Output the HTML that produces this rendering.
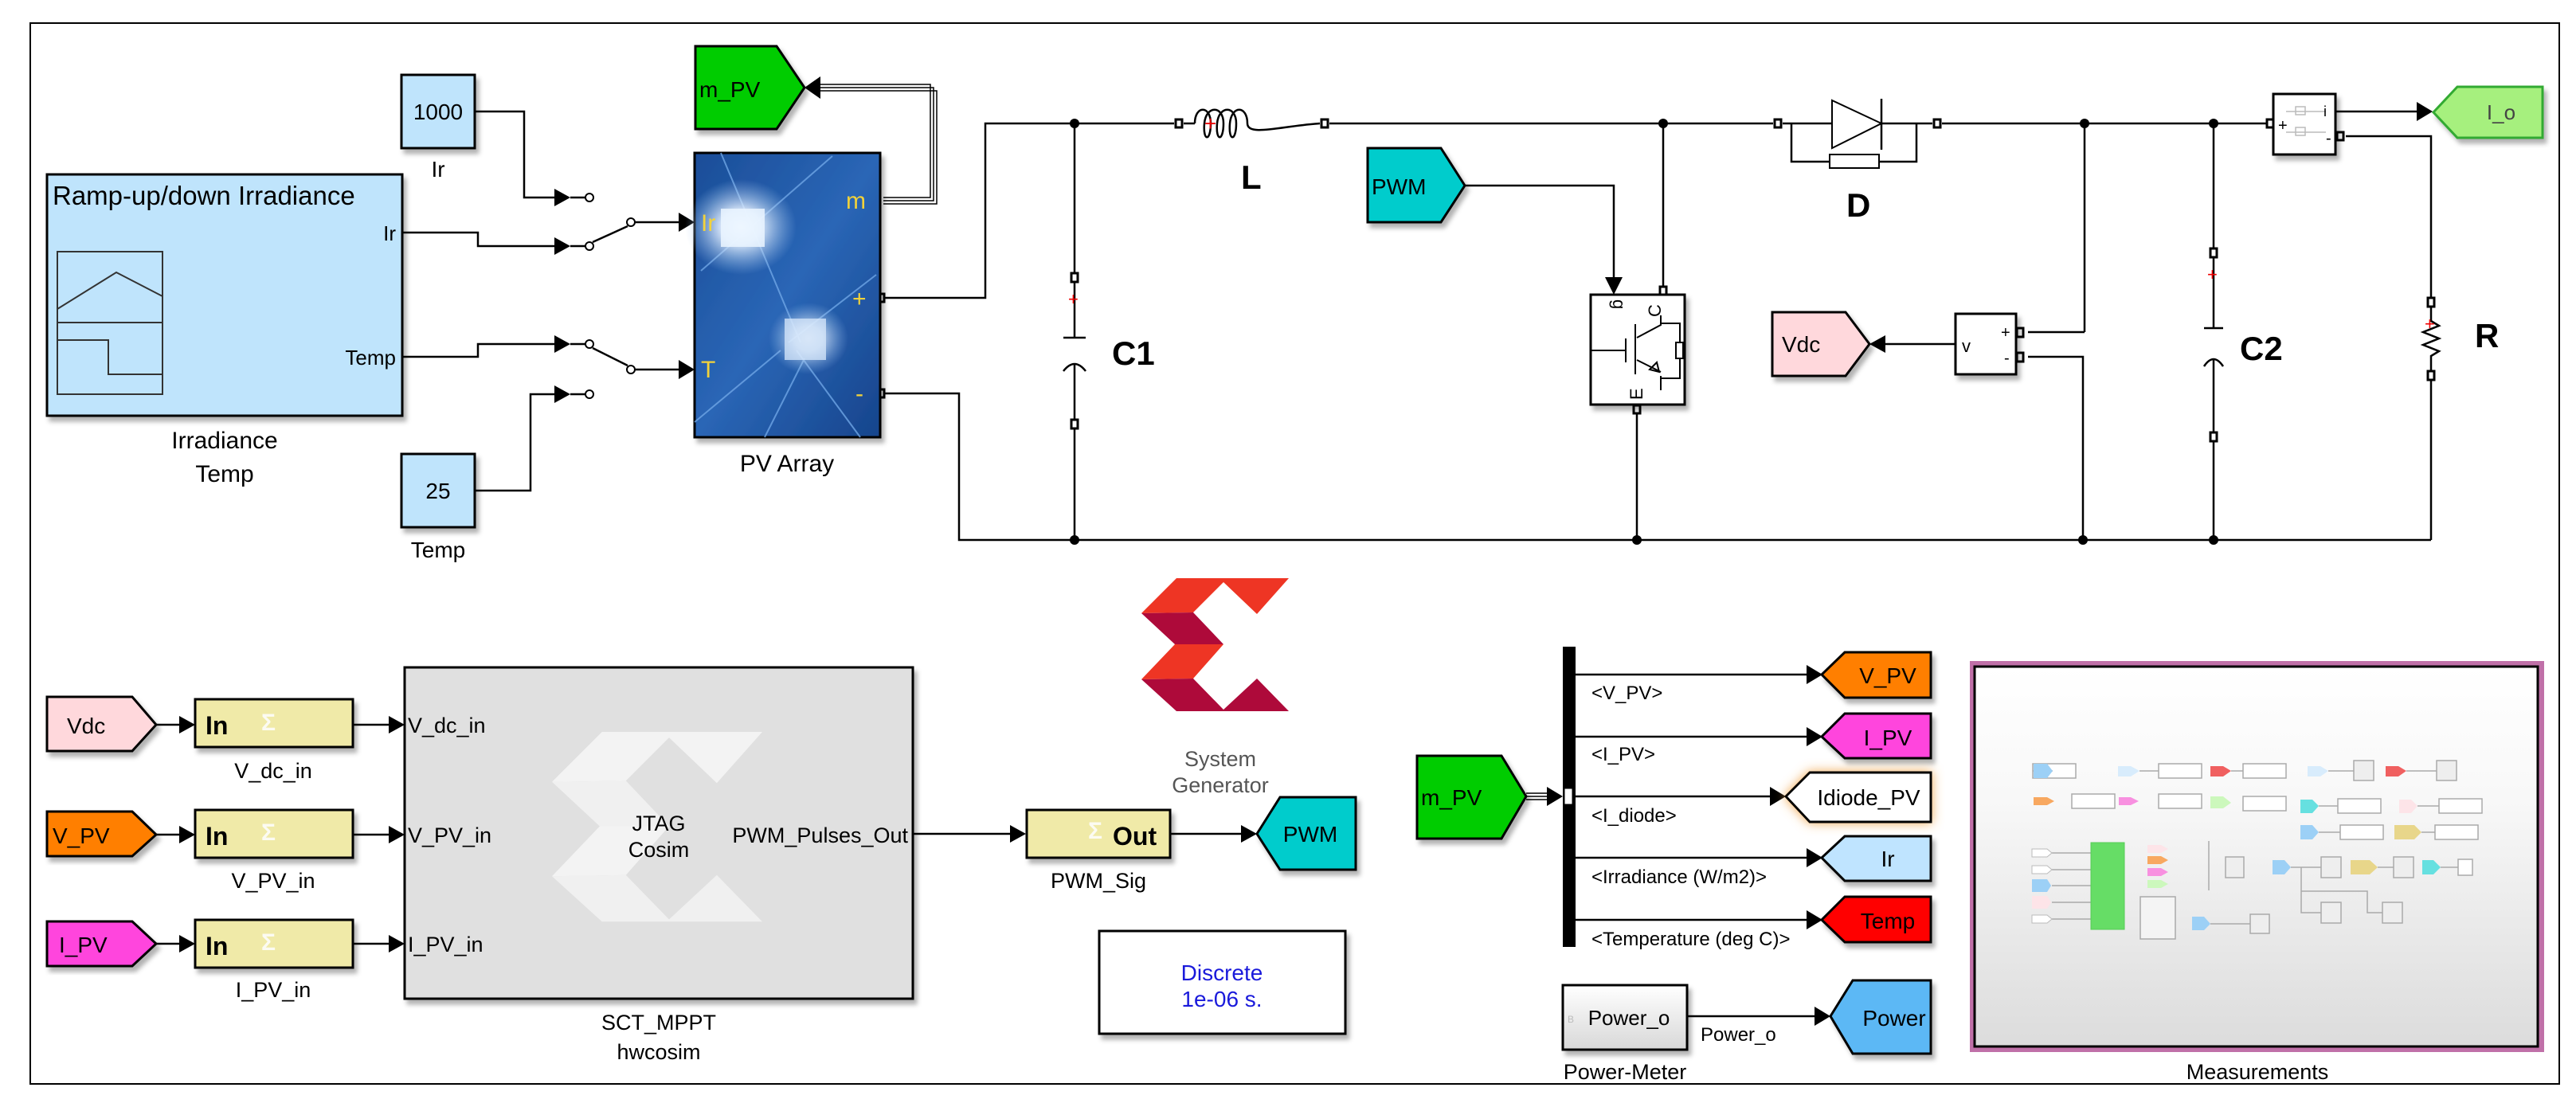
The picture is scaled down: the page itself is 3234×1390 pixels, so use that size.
<!DOCTYPE html>
<html><head><meta charset="utf-8"><style>
html,body{margin:0;padding:0;background:#fff}
svg{display:block}
text{font-family:"Liberation Sans",Arial,sans-serif}
</style></head><body>
<svg width="3234" height="1390" viewBox="0 0 3234 1390" xmlns="http://www.w3.org/2000/svg">
<defs>
<filter id="sh" x="-10%" y="-10%" width="130%" height="130%"><feDropShadow dx="4" dy="6" stdDeviation="3" flood-color="#000" flood-opacity="0.3"/></filter>
<filter id="glow" x="-30%" y="-30%" width="160%" height="160%"><feDropShadow dx="0" dy="0" stdDeviation="7" flood-color="#f0a040" flood-opacity="0.9"/></filter>
<linearGradient id="pv" x1="0" y1="0" x2="1" y2="1"><stop offset="0" stop-color="#1b4d98"/><stop offset="0.5" stop-color="#2a66b6"/><stop offset="1" stop-color="#16448c"/></linearGradient>
<radialGradient id="spot"><stop offset="0" stop-color="#fff" stop-opacity="1"/><stop offset="0.35" stop-color="#e8f2ff" stop-opacity="0.9"/><stop offset="1" stop-color="#9cc4f0" stop-opacity="0"/></radialGradient>
<linearGradient id="meas" x1="0" y1="0" x2="0" y2="1"><stop offset="0" stop-color="#ffffff"/><stop offset="0.35" stop-color="#f8f8f8"/><stop offset="1" stop-color="#dcdcdc"/></linearGradient>
<linearGradient id="pm" x1="0" y1="0" x2="0" y2="1"><stop offset="0" stop-color="#fff"/><stop offset="1" stop-color="#d8d8d8"/></linearGradient>
</defs>

<rect x="38" y="29" width="3175" height="1332" fill="none" stroke="#000" stroke-width="2"/>

<g stroke="#000" stroke-width="2.5" fill="none">
<polyline points="596,140 658,140 658,248 700,248"/>
<polyline points="505,292 600,292 600,309 700,309"/>
<polyline points="505,448 600,448 600,432 700,432"/>
<polyline points="596,616 666,616 666,495 700,495"/>
<line x1="716" y1="248" x2="735" y2="248"/><line x1="716" y1="309" x2="735" y2="309"/>
<line x1="716" y1="432" x2="735" y2="432"/><line x1="716" y1="495" x2="735" y2="495"/>
<line x1="744" y1="304" x2="788" y2="284"/>
<line x1="744" y1="437" x2="788" y2="459"/>
<line x1="797" y1="279" x2="860" y2="279"/>
<line x1="797" y1="464" x2="860" y2="464"/>
<polyline points="1109,374 1237,374 1237,155 1474,155"/>
<polyline points="1109,494 1204,494 1204,678 3052,678"/>
<line x1="1349" y1="155" x2="1349" y2="343"/>
<line x1="1349" y1="354" x2="1349" y2="424"/>
<line x1="1335" y1="424" x2="1363" y2="424"/>
<path d="M1335,466 Q1349,448 1363,466"/>
<line x1="1349" y1="457" x2="1349" y2="527"/>
<line x1="1349" y1="538" x2="1349" y2="678"/>
<line x1="1486" y1="155" x2="1500" y2="155"/>
<path d="M1500,155 C1500,132 1520,132 1520,155 C1520,178 1510,178 1512,155 C1514,132 1536,132 1536,155 C1536,178 1526,178 1528,155 C1530,132 1552,132 1552,155 C1552,178 1542,178 1544,155 C1546,132 1566,132 1566,155 C1566,172 1610,158 1657,155"/>
<line x1="1669" y1="155" x2="2226" y2="155"/>
<line x1="2088" y1="155" x2="2088" y2="360"/>
<line x1="2238" y1="155" x2="2300" y2="155"/>
<line x1="2362" y1="155" x2="2426" y2="155"/>
<polyline points="2249,155 2249,203 2297,203"/><polyline points="2359,203 2406,203 2406,155"/>
<line x1="2438" y1="155" x2="2848" y2="155"/>
<line x1="2617" y1="155" x2="2617" y2="417" /><line x1="2617" y1="417" x2="2546" y2="417"/>
<polyline points="2546,448 2615,448 2615,678"/>
<line x1="2779" y1="155" x2="2779" y2="312"/>
<line x1="2779" y1="323" x2="2779" y2="412"/>
<line x1="2767" y1="412" x2="2791" y2="412"/>
<path d="M2767,460 Q2779,442 2791,460"/>
<line x1="2779" y1="452" x2="2779" y2="543"/>
<line x1="2779" y1="554" x2="2779" y2="678"/>
<line x1="2932" y1="140" x2="3040" y2="140"/>
<polyline points="2945,171 3052,171 3052,374"/>
<polyline points="3052,385 3052,403 3062,409 3042,417 3062,425 3042,433 3062,441 3052,447 3052,466"/>
<line x1="3052" y1="477" x2="3052" y2="678"/>
<polyline points="1839,233 2026,233 2026,356"/>
<line x1="2055" y1="514" x2="2055" y2="678"/>
<line x1="2455" y1="432" x2="2362" y2="432"/>
<polyline points="1109,248 1168,248 1168,106 1024,106" stroke-width="1.5"/>
<polyline points="1109,252 1172,252 1172,110 1024,110" stroke-width="1.5"/>
<polyline points="1109,256 1176,256 1176,114 1024,114" stroke-width="1.5"/>
<line x1="196" y1="910" x2="228" y2="910"/><line x1="443" y1="910" x2="492" y2="910"/>
<line x1="196" y1="1048" x2="228" y2="1048"/><line x1="443" y1="1048" x2="492" y2="1048"/>
<line x1="196" y1="1185" x2="228" y2="1185"/><line x1="443" y1="1185" x2="492" y2="1185"/>
<line x1="1146" y1="1047" x2="1272" y2="1047"/>
<line x1="1469" y1="1047" x2="1562" y2="1047"/>
<line x1="1916" y1="996" x2="1948" y2="996" stroke-width="1.5"/><line x1="1916" y1="1000" x2="1948" y2="1000" stroke-width="1.5"/><line x1="1916" y1="1004" x2="1948" y2="1004" stroke-width="1.5"/>
<line x1="1978" y1="847" x2="2272" y2="847"/>
<line x1="1978" y1="925" x2="2272" y2="925"/>
<line x1="1978" y1="1000" x2="2226" y2="1000"/>
<line x1="1978" y1="1077" x2="2272" y2="1077"/>
<line x1="1978" y1="1155" x2="2272" y2="1155"/>
<line x1="2118" y1="1276" x2="2282" y2="1276"/>
</g>

<g fill="#000">
<polygon points="696,237 716,248 696,259"/><polygon points="696,298 716,309 696,320"/>
<polygon points="696,421 716,432 696,443"/><polygon points="696,484 716,495 696,506"/>
<polygon points="852,267 872,279 852,291"/><polygon points="852,452 872,464 852,476"/>
<polygon points="1030,96 1010,110 1030,124"/>
<polygon points="2015,348 2026,370 2037,348"/>
<polygon points="2367,421 2347,432 2367,443"/>
<polygon points="3034,128 3054,140 3034,152"/>
<polygon points="225,899 245,910 225,921"/><polygon points="488,899 508,910 488,921"/>
<polygon points="225,1037 245,1048 225,1059"/><polygon points="488,1037 508,1048 488,1059"/>
<polygon points="225,1174 245,1185 225,1196"/><polygon points="488,1174 508,1185 488,1196"/>
<polygon points="1268,1036 1288,1047 1268,1058"/>
<polygon points="1558,1036 1578,1047 1558,1058"/>
<polygon points="1942,988 1962,1000 1942,1012"/>
<polygon points="2268,835 2288,847 2268,859"/><polygon points="2268,913 2288,925 2268,937"/>
<polygon points="2222,988 2242,1000 2222,1012"/><polygon points="2268,1065 2288,1077 2268,1089"/>
<polygon points="2268,1143 2288,1155 2268,1167"/><polygon points="2278,1264 2298,1276 2278,1288"/>
<circle cx="1349" cy="155" r="6"/><circle cx="2088" cy="155" r="6"/><circle cx="2617" cy="155" r="6"/><circle cx="2779" cy="155" r="6"/>
<circle cx="1349" cy="678" r="6"/><circle cx="2055" cy="678" r="6"/><circle cx="2615" cy="678" r="6"/><circle cx="2779" cy="678" r="6"/>
</g>
<g fill="#fff" stroke="#000" stroke-width="2">
<circle cx="740" cy="248" r="5"/><circle cx="740" cy="309" r="5"/><circle cx="792" cy="279" r="5"/>
<circle cx="740" cy="432" r="5"/><circle cx="740" cy="495" r="5"/><circle cx="792" cy="464" r="5"/>
</g>
<g fill="#fff" stroke="#000" stroke-width="3">
<rect x="1103" y="369" width="7" height="10"/><rect x="1103" y="489" width="7" height="10"/>
<rect x="1345" y="343" width="8" height="11"/><rect x="1345" y="527" width="8" height="11"/>
<rect x="1476" y="150" width="8" height="10"/><rect x="1659" y="150" width="8" height="10"/>
<rect x="2228" y="150" width="8" height="10"/><rect x="2428" y="150" width="8" height="10"/>
<rect x="2775" y="312" width="8" height="11"/><rect x="2775" y="543" width="8" height="11"/>
<rect x="3048" y="374" width="8" height="11"/><rect x="3048" y="466" width="8" height="11"/>
<rect x="2084" y="360" width="8" height="10"/><rect x="2051" y="509" width="8" height="10"/>
<rect x="2532" y="412" width="8" height="11"/><rect x="2532" y="443" width="8" height="11"/>
<rect x="2846" y="150" width="8" height="10"/><rect x="2934" y="166" width="8" height="10"/>
</g>
<g fill="#e00" font-size="22"><text x="1512" y="164" font-size="26">+</text><text x="1341" y="383">+</text><text x="2771" y="352">+</text><text x="3044" y="414">+</text></g>

<rect x="59" y="219" width="446" height="303" fill="#bfe4fc" stroke="#000" stroke-width="3" filter="url(#sh)"/>
<text x="66" y="257" font-size="33">Ramp-up/down Irradiance</text>
<text x="497" y="302" font-size="26" text-anchor="end">Ir</text>
<text x="497" y="458" font-size="26" text-anchor="end">Temp</text>
<rect x="72" y="316" width="132" height="179" fill="none" stroke="#333" stroke-width="2"/>
<line x1="72" y1="405" x2="204" y2="405" stroke="#333" stroke-width="2"/>
<polyline points="72,388 146,342 204,372" fill="none" stroke="#333" stroke-width="2"/>
<polyline points="72,427 136,427 136,470 204,470" fill="none" stroke="#333" stroke-width="2"/>
<text x="282" y="563" font-size="30" text-anchor="middle">Irradiance</text>
<text x="282" y="605" font-size="30" text-anchor="middle">Temp</text>

<rect x="504" y="94" width="92" height="92" fill="#bfe4fc" stroke="#000" stroke-width="3" filter="url(#sh)"/>
<text x="550" y="150" font-size="28" text-anchor="middle">1000</text>
<text x="550" y="222" font-size="28" text-anchor="middle">Ir</text>
<rect x="504" y="570" width="92" height="92" fill="#bfe4fc" stroke="#000" stroke-width="3" filter="url(#sh)"/>
<text x="550" y="626" font-size="28" text-anchor="middle">25</text>
<text x="550" y="700" font-size="28" text-anchor="middle">Temp</text>

<g filter="url(#sh)"><rect x="872" y="192" width="233" height="357" fill="url(#pv)" stroke="#000" stroke-width="3"/></g>
<g stroke="#6fa6e6" stroke-width="2" fill="none" opacity="0.8">
<line x1="880" y1="340" x2="1045" y2="196"/><line x1="905" y1="192" x2="1005" y2="430"/>
<line x1="990" y1="430" x2="1100" y2="345"/><line x1="1000" y1="440" x2="1080" y2="549"/>
<line x1="872" y1="530" x2="980" y2="440"/><line x1="960" y1="549" x2="1010" y2="450"/>
</g>
<ellipse cx="930" cy="285" rx="70" ry="60" fill="url(#spot)"/>
<rect x="905" y="262" width="55" height="48" fill="#eaf4ff" opacity="0.85"/>
<ellipse cx="1015" cy="425" rx="50" ry="45" fill="url(#spot)" opacity="0.8"/>
<rect x="985" y="400" width="52" height="52" fill="#d8e8fb" opacity="0.75"/>
<g fill="#f2d23a" font-size="30"><text x="880" y="290">Ir</text><text x="880" y="474">T</text><text x="1062" y="262">m</text><text x="1070" y="385">+</text><text x="1074" y="504">-</text></g>
<text x="988" y="592" font-size="30" text-anchor="middle">PV Array</text>

<polygon points="873,58 975,58 1010,110 975,162 873,162" fill="#00cc00" stroke="#000" stroke-width="3" filter="url(#sh)"/>
<text x="878" y="122" font-size="28">m_PV</text>

<g font-weight="bold" font-size="42"><text x="1558" y="237">L</text><text x="1396" y="458">C1</text><text x="2318" y="272">D</text><text x="2812" y="452">C2</text><text x="3107" y="436">R</text></g>

<polygon points="2300,126 2362,155 2300,186" fill="#fff" stroke="#000" stroke-width="2"/>
<line x1="2362" y1="124" x2="2362" y2="188" stroke="#000" stroke-width="2.5"/>
<rect x="2297" y="194" width="62" height="17" fill="#fff" stroke="#000" stroke-width="2"/>

<polygon points="1717,186 1809,186 1839,233 1809,279 1717,279" fill="#00cccc" stroke="#000" stroke-width="3" filter="url(#sh)"/>
<text x="1722" y="244" font-size="28">PWM</text>

<rect x="1997" y="370" width="118" height="138" fill="#fff" stroke="#000" stroke-width="3" filter="url(#sh)"/>
<g stroke="#000" stroke-width="2" fill="none">
<line x1="1997" y1="440" x2="2041" y2="440"/><line x1="2041" y1="425" x2="2041" y2="455"/>
<line x1="2053" y1="407" x2="2053" y2="470"/>
<polyline points="2055,424 2085,408 2085,396"/><polyline points="2085,406 2109,406 2109,430"/>
<rect x="2104" y="430" width="9" height="20"/><polyline points="2109,450 2109,475 2085,475"/>
<polyline points="2055,452 2085,467"/><line x1="2085" y1="472" x2="2085" y2="490"/>
<polygon points="2071,464 2080,455 2083,467"/>
</g>
<text x="2016" y="385" font-size="22" transform="rotate(90 2025 385)">g</text>
<text x="2074" y="387" font-size="22" transform="rotate(-90 2085 387)">C</text>
<text x="2046" y="500" font-size="22" transform="rotate(-90 2055 493)">E</text>

<polygon points="2225,392 2317,392 2347,432 2317,472 2225,472" fill="#ffd8dc" stroke="#000" stroke-width="3" filter="url(#sh)"/>
<text x="2237" y="442" font-size="28">Vdc</text>
<rect x="2455" y="394" width="76" height="76" fill="#fff" stroke="#000" stroke-width="3" filter="url(#sh)"/>
<text x="2463" y="442" font-size="22">v</text><text x="2512" y="424" font-size="20">+</text><text x="2516" y="456" font-size="20">-</text>

<rect x="2854" y="118" width="78" height="76" fill="#fff" stroke="#000" stroke-width="3" filter="url(#sh)"/>
<g stroke="#bbb" stroke-width="1.5" fill="none"><line x1="2870" y1="140" x2="2920" y2="140"/><rect x="2882" y="134" width="12" height="10"/><line x1="2870" y1="166" x2="2920" y2="166"/><rect x="2882" y="160" width="12" height="10"/></g>
<text x="2860" y="164" font-size="20">+</text><text x="2917" y="146" font-size="18">i</text><text x="2920" y="180" font-size="20">-</text>

<polygon points="3085,109 3192,109 3192,173 3085,173 3055,141" fill="#a6f07e" stroke="#3a3" stroke-width="3" filter="url(#sh)"/>
<text x="3140" y="150" font-size="26" fill="#444" text-anchor="middle">I_o</text>

<polygon points="59,875 166,875 196,910 166,943 59,943" fill="#ffd8dc" stroke="#000" stroke-width="3" filter="url(#sh)"/>
<text x="84" y="921" font-size="28">Vdc</text>
<polygon points="59,1019 166,1019 196,1048 166,1075 59,1075" fill="#ff7f00" stroke="#000" stroke-width="3" filter="url(#sh)"/>
<text x="66" y="1059" font-size="28">V_PV</text>
<polygon points="59,1157 166,1157 196,1185 166,1213 59,1213" fill="#ff44dd" stroke="#000" stroke-width="3" filter="url(#sh)"/>
<text x="74" y="1196" font-size="28">I_PV</text>

<g fill="#f0eaa8" stroke="#000" stroke-width="3" filter="url(#sh)">
<rect x="245" y="878" width="198" height="60"/><rect x="245" y="1017" width="198" height="60"/><rect x="245" y="1155" width="198" height="60"/>
<rect x="1289" y="1017" width="180" height="60"/>
</g>
<g font-weight="bold" font-size="32"><text x="258" y="922">In</text><text x="258" y="1061">In</text><text x="258" y="1199">In</text><text x="1397" y="1061">Out</text></g>
<g fill="#fff" font-weight="bold" font-size="30" opacity="0.85"><text x="328" y="917">Σ</text><text x="328" y="1055">Σ</text><text x="328" y="1193">Σ</text><text x="1366" y="1053">Σ</text></g>
<g font-size="27" text-anchor="middle"><text x="343" y="977">V_dc_in</text><text x="343" y="1115">V_PV_in</text><text x="343" y="1252">I_PV_in</text><text x="1379" y="1115">PWM_Sig</text></g>

<rect x="508" y="838" width="638" height="416" fill="#e0e0e0" stroke="#000" stroke-width="3" filter="url(#sh)"/>
<g fill="#f3f3f3" transform="translate(693,919) scale(1.427) translate(-1433,-726)">
<polygon points="1433,770 1477,726 1618,726 1578,771 1536,731 1498,769"/>
<polygon points="1433,770 1498,769 1536,809 1475,809" fill="#f0f0f0"/>
<polygon points="1475,809 1536,809 1498,852 1433,853"/>
<polygon points="1433,853 1498,852 1536,891 1578,852 1618,893 1477,893" fill="#f0f0f0"/>
</g>
<g font-size="27"><text x="512" y="920">V_dc_in</text><text x="512" y="1058">V_PV_in</text><text x="512" y="1195">I_PV_in</text>
<text x="1140" y="1058" text-anchor="end">PWM_Pulses_Out</text>
<text x="827" y="1043" text-anchor="middle">JTAG</text><text x="827" y="1076" text-anchor="middle">Cosim</text>
<text x="827" y="1293" text-anchor="middle">SCT_MPPT</text><text x="827" y="1330" text-anchor="middle">hwcosim</text></g>

<polygon points="1433,770 1477,726 1618,726 1578,771 1536,731 1498,769" fill="#ee3524"/>
<polygon points="1433,770 1498,769 1536,809 1475,809" fill="#ae0a3a"/>
<polygon points="1475,809 1536,809 1498,852 1433,853" fill="#ee3524"/>
<polygon points="1433,853 1498,852 1536,891 1578,852 1618,893 1477,893" fill="#ae0a3a"/>
<text x="1532" y="962" font-size="27" fill="#555" text-anchor="middle">System</text>
<text x="1532" y="995" font-size="27" fill="#555" text-anchor="middle">Generator</text>

<rect x="1380" y="1169" width="309" height="129" fill="#fff" stroke="#000" stroke-width="3" filter="url(#sh)"/>
<text x="1534" y="1231" font-size="28" fill="#1a1adb" text-anchor="middle">Discrete</text>
<text x="1534" y="1264" font-size="28" fill="#1a1adb" text-anchor="middle">1e-06 s.</text>

<polygon points="1607,1001 1702,1001 1702,1092 1607,1092 1578,1047" fill="#00cccc" stroke="#000" stroke-width="3" filter="url(#sh)"/>
<text x="1645" y="1057" font-size="28" text-anchor="middle">PWM</text>

<polygon points="1779,949 1885,949 1916,1000 1885,1053 1779,1053" fill="#00cc00" stroke="#000" stroke-width="3" filter="url(#sh)"/>
<text x="1784" y="1011" font-size="28">m_PV</text>
<rect x="1962" y="812" width="16" height="377" fill="#000"/>
<rect x="1964" y="990" width="10" height="20" fill="#fff" stroke="#000" stroke-width="1"/>

<g font-size="24"><text x="1998" y="878">&lt;V_PV&gt;</text><text x="1998" y="955">&lt;I_PV&gt;</text><text x="1998" y="1032">&lt;I_diode&gt;</text><text x="1998" y="1109">&lt;Irradiance (W/m2)&gt;</text><text x="1998" y="1187">&lt;Temperature (deg C)&gt;</text><text x="2135" y="1307">Power_o</text></g>

<g stroke="#000" stroke-width="3" filter="url(#sh)">
<polygon points="2316,819 2424,819 2424,876 2316,876 2287,847" fill="#ff7f00"/>
<polygon points="2316,896 2424,896 2424,952 2316,952 2287,925" fill="#ff44dd"/>
<polygon points="2316,1050 2424,1050 2424,1106 2316,1106 2287,1077" fill="#bfe4ff"/>
<polygon points="2316,1126 2424,1126 2424,1183 2316,1183 2287,1155" fill="#ff0000"/>
<polygon points="2326,1231 2424,1231 2424,1323 2326,1323 2298,1276" fill="#5cb8f5"/>
</g>
<polygon points="2272,970 2424,970 2424,1032 2272,1032 2242,1000" fill="#fff" stroke="#000" stroke-width="3" filter="url(#glow)"/>
<g font-size="28" text-anchor="middle"><text x="2370" y="858">V_PV</text><text x="2370" y="936">I_PV</text><text x="2346" y="1011">Idiode_PV</text><text x="2370" y="1088">Ir</text><text x="2370" y="1166">Temp</text><text x="2378" y="1288">Power</text></g>

<rect x="1962" y="1237" width="156" height="81" fill="url(#pm)" stroke="#000" stroke-width="3" filter="url(#sh)"/>
<text x="2045" y="1287" font-size="26" text-anchor="middle">Power_o</text>
<text x="1968" y="1284" font-size="12" fill="#bbb">B</text>
<text x="2040" y="1355" font-size="27" text-anchor="middle">Power-Meter</text>

<rect x="2473" y="830" width="721" height="491" fill="#c070a8"/>
<rect x="2479" y="837" width="707" height="477" fill="url(#meas)" stroke="#000" stroke-width="3"/>
<text x="2834" y="1355" font-size="27" text-anchor="middle">Measurements</text>
<g stroke="#aaa" stroke-width="1.5">
<rect x="2552" y="959" width="54" height="18" fill="#fff"/><rect x="2710" y="959" width="54" height="18" fill="#fff"/><rect x="2816" y="959" width="54" height="18" fill="#fff"/>
<rect x="2955" y="955" width="25" height="25" fill="#eee"/><rect x="3059" y="955" width="25" height="25" fill="#eee"/>
<rect x="2601" y="997" width="54" height="18" fill="#fff"/><rect x="2710" y="997" width="54" height="18" fill="#fff"/><rect x="2816" y="1000" width="54" height="18" fill="#fff"/>
<rect x="2935" y="1003" width="54" height="18" fill="#fff"/><rect x="3062" y="1003" width="54" height="18" fill="#fff"/>
<rect x="2938" y="1036" width="54" height="18" fill="#fff"/><rect x="3057" y="1036" width="54" height="18" fill="#fff"/>
<rect x="2794" y="1076" width="23" height="26" fill="#eee"/><rect x="2914" y="1076" width="25" height="26" fill="#eee"/><rect x="3005" y="1076" width="25" height="26" fill="#eee"/><rect x="3086" y="1079" width="18" height="20" fill="#fff"/>
<rect x="2914" y="1133" width="25" height="26" fill="#eee"/><rect x="2991" y="1133" width="25" height="26" fill="#eee"/>
<rect x="2687" y="1126" width="44" height="53" fill="#f4f4f4"/><rect x="2825" y="1148" width="24" height="24" fill="#eee"/>
<line x1="2576" y1="1071" x2="2625" y2="1071"/><line x1="2576" y1="1092" x2="2625" y2="1092"/><line x1="2576" y1="1112" x2="2625" y2="1112"/><line x1="2576" y1="1133" x2="2625" y2="1133"/><line x1="2576" y1="1154" x2="2625" y2="1154"/>
<line x1="2773" y1="1056" x2="2773" y2="1118"/>
<line x1="2577" y1="968" x2="2552" y2="968"/><line x1="2686" y1="968" x2="2710" y2="968"/><line x1="2801" y1="968" x2="2816" y2="968"/><line x1="2923" y1="968" x2="2955" y2="968"/><line x1="3021" y1="968" x2="3059" y2="968"/>
<line x1="2911" y1="1012" x2="2935" y2="1012"/><line x1="3035" y1="1012" x2="3062" y2="1012"/><line x1="2911" y1="1045" x2="2938" y2="1045"/><line x1="3040" y1="1045" x2="3057" y2="1045"/>
<line x1="2876" y1="1089" x2="2914" y2="1089"/><line x1="2985" y1="1089" x2="3005" y2="1089"/><line x1="3064" y1="1089" x2="3086" y2="1089"/>
<polyline points="2889,1089 2889,1146 2914,1146" fill="none"/><polyline points="2889,1119 2972,1119 2972,1146 2991,1146" fill="none"/>
<line x1="2775" y1="1160" x2="2825" y2="1160"/>
</g>
<rect x="2625" y="1058" width="42" height="109" fill="#66dd66" stroke="#5c5" stroke-width="1"/>
<g>
<polygon points="2553,959 2570,959 2577,968 2570,977 2553,977" fill="#9cd0f6"/>
<polygon points="2659,962 2675,962 2686,968 2675,975 2659,975" fill="#d8ecfc"/>
<polygon points="2775,962 2791,962 2801,968 2791,975 2775,975" fill="#f06060"/>
<polygon points="2897,962 2913,962 2923,968 2913,975 2897,975" fill="#d8ecfc"/>
<polygon points="2995,962 3011,962 3021,968 3011,975 2995,975" fill="#f06060"/>
<polygon points="2553,1001 2570,1001 2579,1006 2570,1011 2553,1011" fill="#f8a860"/>
<polygon points="2660,1001 2675,1001 2685,1006 2675,1011 2660,1011" fill="#f890e0"/>
<polygon points="2775,1000 2791,1000 2801,1008 2791,1015 2775,1015" fill="#ccf8bc"/>
<polygon points="2888,1004 2903,1004 2911,1012 2903,1021 2888,1021" fill="#66e0e0"/>
<polygon points="3012,1004 3027,1004 3035,1012 3027,1021 3012,1021" fill="#fde4e8"/>
<polygon points="2888,1036 2903,1036 2911,1045 2903,1054 2888,1054" fill="#9cd0f6"/>
<polygon points="3006,1036 3031,1036 3040,1045 3031,1054 3006,1054" fill="#e8d68a"/>
<polygon points="2853,1080 2868,1080 2876,1089 2868,1098 2853,1098" fill="#9cd0f6"/>
<polygon points="2951,1080 2975,1080 2985,1089 2975,1098 2951,1098" fill="#e8d68a"/>
<polygon points="3041,1080 3055,1080 3064,1089 3055,1098 3041,1098" fill="#66e0e0"/>
<polygon points="2696,1061 2713,1061 2722,1066 2713,1071 2696,1071" fill="#fde4e8"/>
<polygon points="2696,1075 2713,1075 2722,1080 2713,1085 2696,1085" fill="#f8a860"/>
<polygon points="2696,1090 2713,1090 2722,1095 2713,1100 2696,1100" fill="#f890e0"/>
<polygon points="2696,1105 2713,1105 2722,1110 2713,1115 2696,1115" fill="#ccf8bc"/>
<polygon points="2551,1066 2570,1066 2576,1071 2570,1076 2551,1076" fill="#fff" stroke="#bbb"/>
<polygon points="2551,1087 2570,1087 2576,1092 2570,1097 2551,1097" fill="#fff" stroke="#bbb"/>
<polygon points="2551,1104 2570,1104 2575,1112 2570,1120 2551,1120" fill="#9cd0f6"/>
<polygon points="2551,1125 2570,1125 2575,1133 2570,1141 2551,1141" fill="#fde4e8"/>
<polygon points="2551,1149 2570,1149 2576,1154 2570,1159 2551,1159" fill="#fff" stroke="#bbb"/>
<polygon points="2752,1151 2767,1151 2775,1160 2767,1168 2752,1168" fill="#9cd0f6"/>
</g>
</svg>
</body></html>
